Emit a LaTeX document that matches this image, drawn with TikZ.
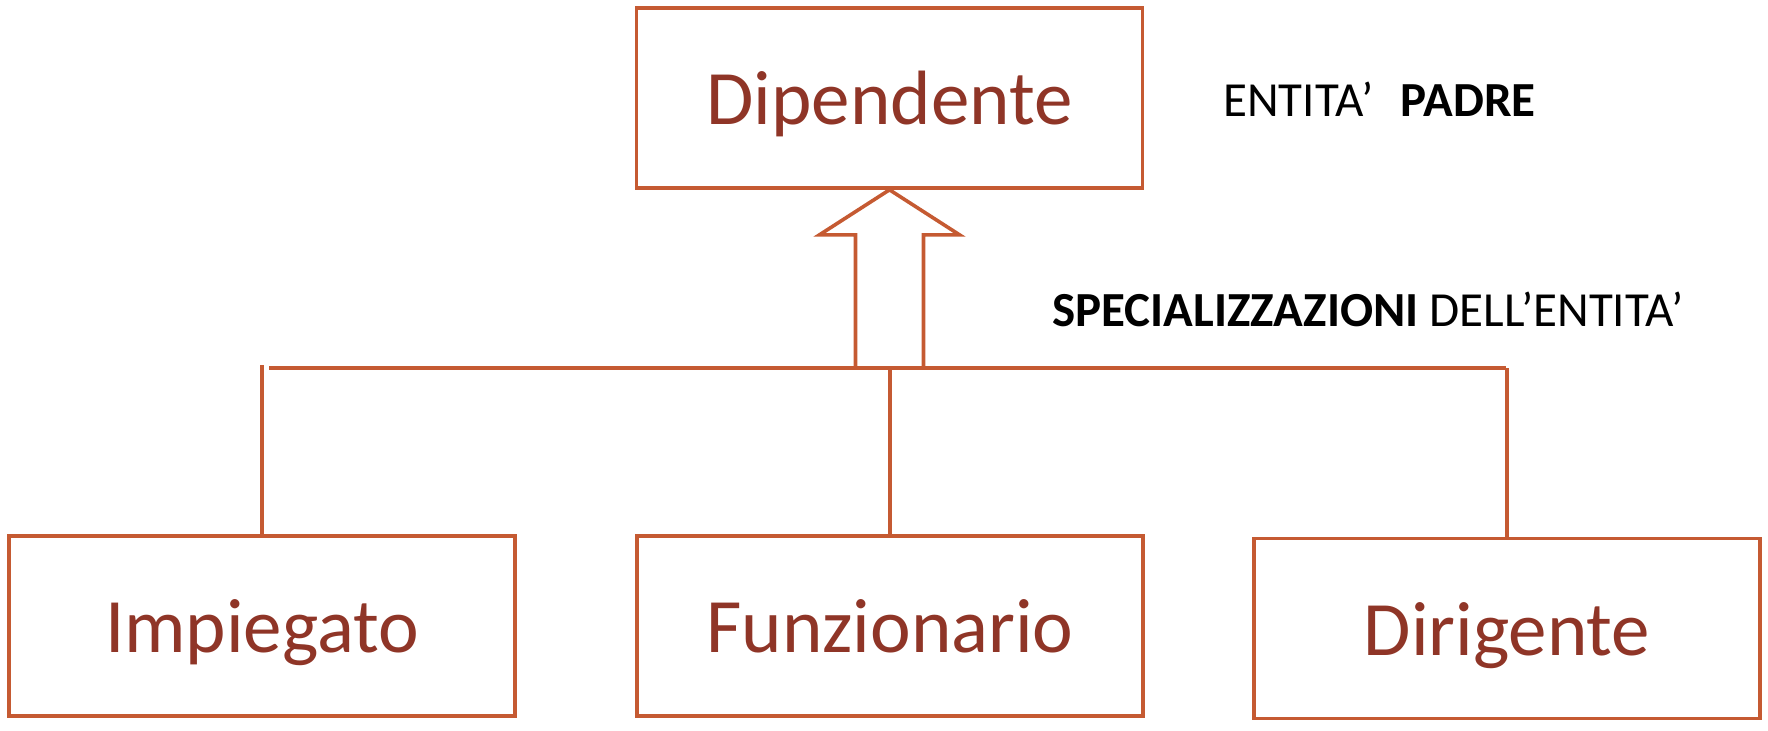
\documentclass[tikz,border=0pt]{standalone}
\usepackage{fontspec}
\setmainfont{Carlito}
\usepackage{xcolor}
\usepackage{tikz}
\definecolor{boxline}{RGB}{197,90,50}
\definecolor{boxtext}{RGB}{143,53,39}

\begin{document}
\begin{tikzpicture}
        [
            x = 0.5pt, y = -0.5pt,
            every node/.append style = {inner sep = 0pt},
            entity/.style = {draw = boxline, line width = 1.8pt, text = boxtext,
                minimum width = 253pt, minimum height = 90pt,
                font = \fontsize{38.5}{42}\selectfont, text height = 34.6pt, text depth = 7.7pt},
            link/.style = {draw = boxline, line width = 1.8pt},
            note/.style = {anchor = base west, font = \fontsize{24.5}{27}\selectfont}]
        \useasboundingbox (0,0) rectangle (1768,730);
        \node[entity] (dipendente) at (889.5,98) {Dipendente};
        \node[entity] (impiegato) at (262,626) {Impiegato};
        \node[entity] (funzionario) at (890,626) {Funzionario};
        \node[entity] (dirigente) at (1507,628.5) {Dirigente};
        \node[note] (padre) at (1223,116) {ENTITA’\hspace{0.55em}\textbf{PADRE}};
        \node[note] (spec) at (1052,326) {\textbf{SPECIALIZZAZIONI} DELL’ENTITA’};
        \coordinate (busleft) at (269,368);
        \coordinate (busright) at (1506,368);
        \coordinate (impiegatotop) at (262,365);
        \draw[link] (busleft) -- (busright);
        \draw[link] (dipendente.south) ++(-34,180) -- ++(0,-135) -- ++(-36,0)
            -- (dipendente.south) -- ++(70,45) -- ++(-36,0) -- ++(0,135);
        \draw[link] (impiegato.north) -- (impiegatotop);
        \draw[link] (funzionario.north) -- (funzionario.north |- busleft);
        \draw[link] (dirigente.north) -- (dirigente.north |- busright);
    \end{tikzpicture}
\end{document}
